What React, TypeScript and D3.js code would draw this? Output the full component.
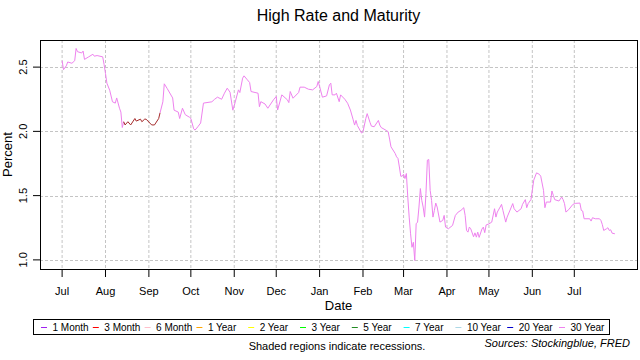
import React from "react";
import * as d3 from "d3";

// ---- data ----
const rateDates: string[] = [
  "2019-07-01","2019-07-02","2019-07-04","2019-07-05","2019-07-08","2019-07-10","2019-07-11","2019-07-12",
  "2019-07-15","2019-07-16","2019-07-17","2019-07-20","2019-07-23","2019-07-24","2019-07-26","2019-07-30",
  "2019-07-31","2019-08-01","2019-08-02","2019-08-04","2019-08-06","2019-08-08","2019-08-09","2019-08-11",
  "2019-08-12","2019-08-13",
  "2019-08-14","2019-08-15","2019-08-17","2019-08-19","2019-08-22","2019-08-23","2019-08-26","2019-08-27",
  "2019-08-29","2019-08-30","2019-09-03","2019-09-05","2019-09-08",
  "2019-09-09","2019-09-11","2019-09-12","2019-09-14","2019-09-18","2019-09-19","2019-09-22","2019-09-23",
  "2019-09-25","2019-09-27","2019-09-30","2019-10-01","2019-10-03","2019-10-04","2019-10-06","2019-10-08",
  "2019-10-10","2019-10-16","2019-10-18","2019-10-20","2019-10-23","2019-10-25","2019-10-27","2019-10-29",
  "2019-10-31","2019-11-01","2019-11-04","2019-11-05","2019-11-07","2019-11-08","2019-11-10","2019-11-12",
  "2019-11-13","2019-11-18","2019-11-19","2019-11-20","2019-11-23","2019-11-25","2019-11-29","2019-12-01",
  "2019-12-02","2019-12-05","2019-12-09","2019-12-10","2019-12-11","2019-12-13","2019-12-17","2019-12-18",
  "2019-12-21","2019-12-24","2019-12-27","2019-12-30","2019-12-31","2020-01-01","2020-01-03","2020-01-06",
  "2020-01-08","2020-01-09","2020-01-10","2020-01-12","2020-01-13","2020-01-15","2020-01-16","2020-01-19",
  "2020-01-21","2020-01-23","2020-01-25","2020-01-26","2020-01-27","2020-01-28","2020-01-31","2020-02-01",
  "2020-02-03","2020-02-04","2020-02-06","2020-02-07","2020-02-09","2020-02-12","2020-02-13","2020-02-14",
  "2020-02-18","2020-02-19","2020-02-20","2020-02-21","2020-02-24","2020-02-25","2020-02-26","2020-02-27",
  "2020-02-28","2020-02-29","2020-03-01","2020-03-02","2020-03-03","2020-03-04","2020-03-05","2020-03-06",
  "2020-03-07","2020-03-08","2020-03-09","2020-03-10","2020-03-11","2020-03-12","2020-03-13","2020-03-14",
  "2020-03-15","2020-03-16","2020-03-17","2020-03-18","2020-03-19","2020-03-20","2020-03-21","2020-03-22",
  "2020-03-23","2020-03-24","2020-03-25","2020-03-27","2020-03-29","2020-03-30","2020-03-31","2020-04-02",
  "2020-04-05","2020-04-07","2020-04-09","2020-04-11","2020-04-13","2020-04-14","2020-04-15","2020-04-16",
  "2020-04-17","2020-04-18","2020-04-20","2020-04-21","2020-04-22","2020-04-23","2020-04-24","2020-04-26",
  "2020-04-27","2020-04-28","2020-04-29","2020-05-01","2020-05-03","2020-05-05","2020-05-06","2020-05-07",
  "2020-05-09","2020-05-10","2020-05-11","2020-05-13","2020-05-14","2020-05-17","2020-05-18","2020-05-19",
  "2020-05-21","2020-05-24","2020-05-25","2020-05-27","2020-05-28","2020-05-29","2020-05-31","2020-06-01",
  "2020-06-02","2020-06-04","2020-06-06","2020-06-07","2020-06-09","2020-06-10","2020-06-11","2020-06-14",
  "2020-06-15","2020-06-16","2020-06-17","2020-06-20","2020-06-22","2020-06-23","2020-06-24","2020-06-25",
  "2020-06-27","2020-06-30","2020-07-02","2020-07-05","2020-07-06","2020-07-07","2020-07-08","2020-07-12",
  "2020-07-13","2020-07-14","2020-07-16","2020-07-19","2020-07-20","2020-07-21","2020-07-22","2020-07-24",
  "2020-07-25","2020-07-26","2020-07-27","2020-07-28","2020-07-30",
];

const rateValues: number[] = [
  2.55,2.48,2.51,2.54,2.53,2.55,2.645,2.62,
  2.61,2.625,2.56,2.58,2.60,2.585,2.59,2.58,
  2.52,2.45,2.375,2.32,2.23,2.22,2.26,2.18,
  2.15,2.03,
  2.075,2.05,2.075,2.05,2.10,2.08,2.095,2.075,
  2.095,2.095,2.05,2.05,2.10,
  2.145,2.23,2.37,2.335,2.26,2.165,2.15,2.10,
  2.18,2.13,2.11,2.10,2.02,2.01,2.036,2.065,
  2.22,2.23,2.25,2.266,2.25,2.297,2.336,2.305,
  2.165,2.20,2.323,2.302,2.414,2.432,2.406,2.38,
  2.31,2.297,2.192,2.231,2.213,2.18,2.245,2.271,
  2.166,2.284,2.245,2.224,2.31,2.258,2.302,2.344,
  2.344,2.328,2.323,2.349,2.388,2.349,2.266,2.276,
  2.362,2.375,2.284,2.284,2.297,2.231,2.284,2.25,
  2.219,2.166,2.09,2.049,2.085,2.045,1.987,1.997,
  2.10,2.138,2.07,2.041,2.036,2.085,2.049,2.03,
  2.005,1.997,1.94,1.88,1.828,1.802,1.789,1.723,
  1.651,1.651,1.666,1.633,1.672,1.489,1.333,1.203,
  1.098,1.137,0.995,1.281,1.294,1.411,1.555,1.463,
  1.411,1.333,1.516,1.776,1.781,1.541,1.463,1.333,
  1.385,1.442,1.411,1.294,1.307,1.346,1.255,1.242,
  1.268,1.346,1.372,1.385,1.406,1.346,1.229,1.216,
  1.255,1.242,1.18,1.21,1.177,1.216,1.175,1.24,
  1.255,1.212,1.272,1.28,1.294,1.398,1.333,1.372,
  1.411,1.432,1.385,1.294,1.333,1.411,1.438,1.398,
  1.372,1.398,1.432,1.469,1.406,1.4375,1.469,1.541,
  1.62,1.677,1.666,1.651,1.541,1.406,1.45,1.45,
  1.536,1.502,1.469,1.458,1.489,1.469,1.438,1.372,
  1.391,1.432,1.44,1.442,1.385,1.38,1.32,1.32,
  1.302,1.328,1.32,1.32,1.307,1.276,1.229,1.242,
  1.25,1.229,1.234,1.208,1.203,
];

// maturity holding the highest rate on each date
const rateMaturity: string[] = rateDates.map((d) =>
  d >= "2019-08-14" && d <= "2019-09-08" ? "20 Year" : "30 Year"
);

const segmentColors: Record<string, string> = {
  "30 Year": "#EE82EE",
  "20 Year": "#A52A2A",
};

const legendLabels = [
  "1 Month","3 Month","6 Month","1 Year","2 Year","3 Year",
  "5 Year","7 Year","10 Year","20 Year","30 Year",
];
const legendColors = [
  "#A020F0","#FF0000","#FFC0CB","#FFA500","#FFFF00","#00FF00",
  "#228B22","#00FFFF","#ADD8E6","#0000CD","#EE82EE",
];

const yTicks = [1.0, 1.5, 2.0, 2.5];
const xTickDates = [
  "2019-07-01","2019-08-01","2019-09-01","2019-10-01","2019-11-01","2019-12-01","2020-01-01",
  "2020-02-01","2020-03-01","2020-04-01","2020-05-01","2020-06-01","2020-07-01",
];

const title = "High Rate and Maturity";
const xLabel = "Date";
const yLabel = "Percent";
const note = "Shaded regions indicate recessions.";
const source = "Sources: Stockingblue, FRED";

const FONT = "'Liberation Sans', Arial, Helvetica, sans-serif";

export default function App() {
  const parse = d3.utcParse("%Y-%m-%d");
  const pts = rateDates.map((d, i) => ({
    date: parse(d) as Date,
    value: rateValues[i],
    mat: rateMaturity[i],
  }));

  const left = 40, right = 637, top = 40, bottom = 269;

  const [dMin, dMax] = d3.extent(pts, (p) => p.date.getTime()) as [number, number];
  const dPad = (dMax - dMin) * 0.04;
  const x = d3
    .scaleUtc()
    .domain([new Date(dMin - dPad), new Date(dMax + dPad)])
    .range([left, right]);

  const [vMin, vMax] = d3.extent(pts, (p) => p.value) as [number, number];
  const vPad = (vMax - vMin) * 0.04;
  const y = d3.scaleLinear().domain([vMin - vPad, vMax + vPad]).range([bottom, top]);

  const line = d3
    .line<{ date: Date; value: number }>()
    .x((p) => x(p.date))
    .y((p) => y(p.value));

  // split into colored segments, sharing boundary points
  const segments: { mat: string; pts: typeof pts }[] = [];
  pts.forEach((p) => {
    const last = segments[segments.length - 1];
    if (!last || last.mat !== p.mat) {
      if (last) last.pts.push(p);
      segments.push({ mat: p.mat, pts: [p] });
    } else {
      last.pts.push(p);
    }
  });

  const xTicks = xTickDates.map((d) => parse(d) as Date);
  const fmt = d3.utcFormat("%b");
  const midX = (left + right) / 2;

  const legendX0 = 41;
  const legendStep = 51.8;

  return (
    <svg
      width={640}
      height={360}
      style={{ position: "absolute", left: 0, top: 0, background: "#fff" }}
      fontFamily={FONT}
    >
      <rect x={0} y={0} width={640} height={360} fill="#fff" />
      <text x={midX} y={21} textAnchor="middle" fontSize={16} fill="#000">
        {title}
      </text>

      {/* grid */}
      {xTicks.map((t, i) => (
        <line
          key={"gx" + i}
          x1={x(t)}
          x2={x(t)}
          y1={top}
          y2={bottom}
          stroke="#c4c4c4"
          strokeDasharray="3,2"
          strokeWidth={1}
        />
      ))}
      {yTicks.map((t, i) => (
        <line
          key={"gy" + i}
          x1={left}
          x2={right}
          y1={Math.round(y(t)) + 0.5}
          y2={Math.round(y(t)) + 0.5}
          stroke="#c4c4c4"
          strokeDasharray="3,2"
          strokeWidth={1}
        />
      ))}

      {/* series */}
      {segments.map((s, i) => (
        <path
          key={"s" + i}
          d={line(s.pts) || ""}
          fill="none"
          stroke={segmentColors[s.mat]}
          strokeWidth={1}
        />
      ))}

      {/* box */}
      <rect
        x={left + 0.5}
        y={top + 0.5}
        width={right - left}
        height={bottom - top}
        fill="none"
        stroke="#000"
        strokeWidth={1}
      />

      {/* x axis */}
      {xTicks.map((t, i) => (
        <g key={"xt" + i}>
          <line x1={x(t)} x2={x(t)} y1={bottom} y2={bottom + 8} stroke="#000" />
          <text x={x(t)} y={295} textAnchor="middle" fontSize={11} fill="#000">
            {fmt(t)}
          </text>
        </g>
      ))}
      <text x={midX} y={310} textAnchor="middle" fontSize={13} fill="#000">
        {xLabel}
      </text>

      {/* y axis */}
      {yTicks.map((t, i) => (
        <g key={"yt" + i}>
          <line x1={left - 7} x2={left} y1={y(t)} y2={y(t)} stroke="#000" />
          <text
            transform={`translate(26.5,${y(t)}) rotate(-90)`}
            textAnchor="middle"
            fontSize={11}
            fill="#000"
          >
            {t.toFixed(1)}
          </text>
        </g>
      ))}
      <text
        transform={`translate(11.5,${(top + bottom) / 2}) rotate(-90)`}
        textAnchor="middle"
        fontSize={13}
        fill="#000"
      >
        {yLabel}
      </text>

      {/* legend */}
      <rect x={33.5} y={319.5} width={576} height={15} fill="#fff" stroke="#000" strokeWidth={1} />
      {legendLabels.map((lab, i) => {
        const lx = legendX0 + i * legendStep;
        return (
          <g key={"lg" + i}>
            <line x1={lx} x2={lx + 6} y1={327.5} y2={327.5} stroke={legendColors[i]} strokeWidth={1} />
            <text x={lx + 11.5} y={331} fontSize={10} fill="#000">
              {lab}
            </text>
          </g>
        );
      })}

      <text x={337} y={350} textAnchor="middle" fontSize={11} fill="#000">
        {note}
      </text>
      <text x={630} y={347} textAnchor="end" fontSize={11} fontStyle="italic" fill="#000">
        {source}
      </text>
    </svg>
  );
}
